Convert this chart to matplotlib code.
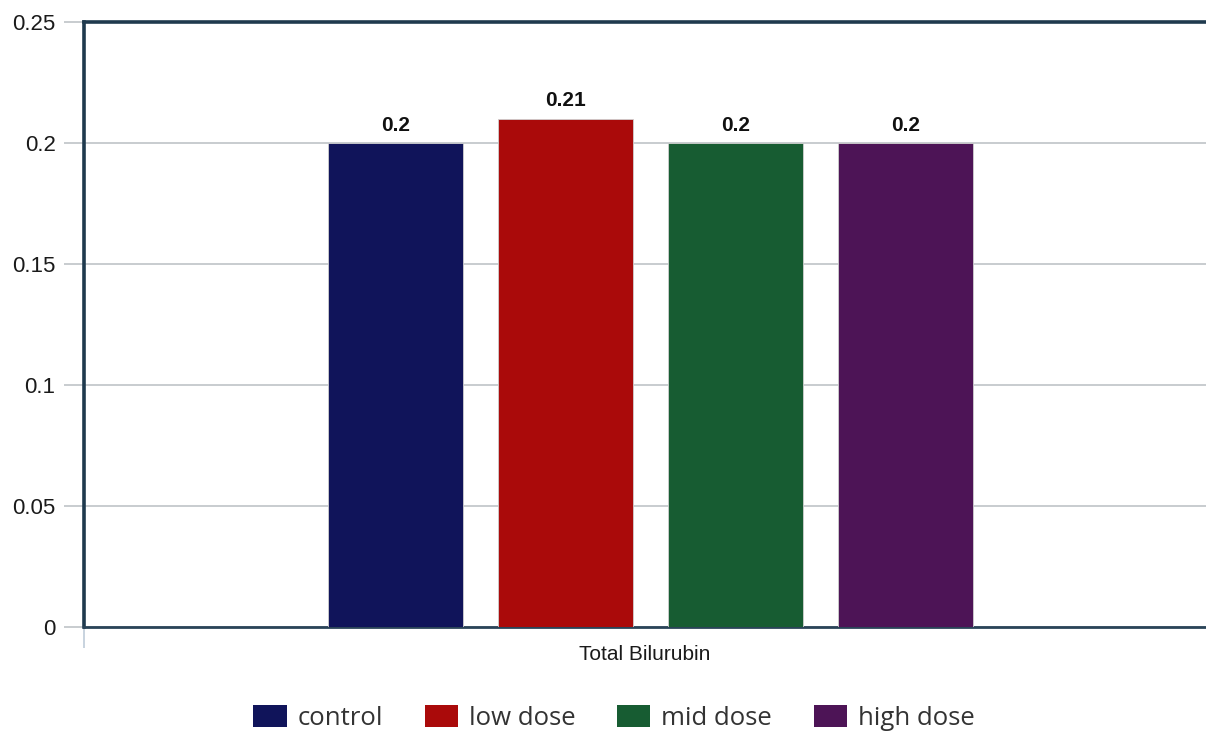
import matplotlib.pyplot as plt
from matplotlib.patches import Patch

plt.switch_backend('agg')

groups = ['control', 'low dose', 'mid dose', 'high dose']
values = [0.2, 0.21, 0.2, 0.2]
colors = ['#10145A', '#AA0A0A', '#175C32', '#4D1456']
category = 'Total Bilurubin'
yticks = [0, 0.05, 0.1, 0.15, 0.2, 0.25]

fig = plt.figure(figsize=(12.06, 7.33), dpi=100)
ax = fig.add_axes([84 / 1206, 1 - 627 / 733, 1 - 84 / 1206, (627 - 22) / 733])

width = 0.1203
step = 0.1515
center = 0.005
offsets = [center + (i - 1.5) * step for i in range(len(groups))]
for x, v, c in zip(offsets, values, colors):
    ax.bar(x, v, width, color=c, edgecolor='#d0d0d0', linewidth=0.6, zorder=3)
    ax.annotate(('%g' % v), (x, v), xytext=(0, 6), textcoords='offset points',
                ha='center', va='bottom', fontsize=15, fontweight='bold',
                family='Liberation Sans', color='#111111')

ax.set_xlim(-0.5, 0.5)
ax.set_ylim(0, 0.25)
ax.set_yticks(yticks)
ax.set_yticklabels(['%g' % t for t in yticks], family='Liberation Sans', fontsize=16, color='#1a1a1a')
ax.yaxis.grid(True, color='#c4c8cc', linewidth=1.3, zorder=0)
ax.tick_params(axis='y', length=14.5, color='#c4c8cc', width=1.3, pad=6)

ax.set_xticks([0])
ax.set_xticklabels([category], family='Liberation Sans', fontsize=15, color='#1a1a1a')
ax.tick_params(axis='x', which='major', length=0, pad=13)
ax.set_xticks([-0.5], minor=True)
ax.tick_params(axis='x', which='minor', length=15, color='#c4d0dc', width=1.3)

for s in ['top', 'left']:
    ax.spines[s].set_color('#1F3A4E')
    ax.spines[s].set_linewidth(2.6)
ax.spines['bottom'].set_color('#2A4458')
ax.spines['bottom'].set_linewidth(2)
ax.spines['right'].set_visible(False)

handles = [Patch(facecolor=c, edgecolor='none') for c in colors]
fig.legend(handles, groups, loc='lower center', bbox_to_anchor=(0.509, -0.029), ncol=4,
           frameon=False, prop={'family': 'Open Sans', 'size': 18.5},
           handlelength=1.3, handleheight=0.95, handletextpad=0.42, columnspacing=1.62,
           labelcolor='#333333')

fig.savefig('out.png', dpi=100)
